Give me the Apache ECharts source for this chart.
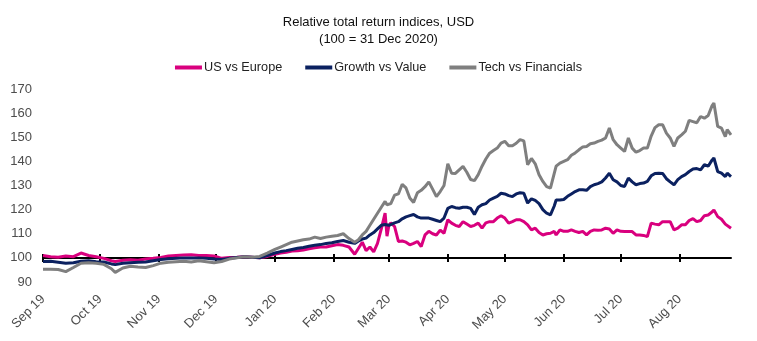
<!DOCTYPE html>
<html><head><meta charset="utf-8">
<script src="https://cdn.jsdelivr.net/npm/echarts@6/dist/echarts.min.js"></script>
<style>html,body{margin:0;padding:0;background:#fff}#c{width:757px;height:341px}</style>
</head><body><div id="c"></div>
<script>
const titleText = 'Relative total return indices, USD\n(100 = 31 Dec 2020)';
const seriesNames = ['US vs Europe', 'Growth vs Value', 'Tech vs Financials'];
const monthNames = ['Jan','Feb','Mar','Apr','May','Jun','Jul','Aug','Sep','Oct','Nov','Dec'];
const axisStart = '2019-09-01';
const axisEnd = '2020-08-28';
const yTicks = [90, 100, 110, 120, 130, 140, 150, 160, 170];

const dates = [
'2019-09-01','2019-09-05','2019-09-09','2019-09-13','2019-09-17','2019-09-21','2019-09-25','2019-09-29',
'2019-10-03','2019-10-07','2019-10-09','2019-10-13','2019-10-17','2019-10-21','2019-10-25','2019-10-29',
'2019-11-02','2019-11-06','2019-11-10','2019-11-14','2019-11-18','2019-11-22','2019-11-26','2019-11-30',
'2019-12-04','2019-12-08','2019-12-12','2019-12-16','2019-12-20','2019-12-24','2019-12-28',
'2020-01-01','2020-01-04','2020-01-07','2020-01-10','2020-01-13','2020-01-16','2020-01-19','2020-01-22','2020-01-25','2020-01-28','2020-01-31',
'2020-02-03','2020-02-06','2020-02-09','2020-02-12','2020-02-14','2020-02-16','2020-02-18','2020-02-20','2020-02-22','2020-02-24','2020-02-26','2020-02-28','2020-02-29',
'2020-03-01','2020-03-02','2020-03-04','2020-03-06','2020-03-08','2020-03-10','2020-03-12','2020-03-14','2020-03-16','2020-03-18','2020-03-20','2020-03-22','2020-03-24','2020-03-26','2020-03-28','2020-03-30',
'2020-04-01','2020-04-03','2020-04-05','2020-04-07','2020-04-09','2020-04-11','2020-04-13','2020-04-15','2020-04-17','2020-04-19','2020-04-21','2020-04-23','2020-04-25','2020-04-27','2020-04-29',
'2020-05-01','2020-05-03','2020-05-05','2020-05-07','2020-05-09','2020-05-11','2020-05-13','2020-05-15','2020-05-17','2020-05-19','2020-05-21','2020-05-23','2020-05-25','2020-05-27','2020-05-28','2020-05-30',
'2020-06-01','2020-06-03','2020-06-05','2020-06-07','2020-06-09','2020-06-11','2020-06-13','2020-06-15','2020-06-17','2020-06-19','2020-06-21','2020-06-23','2020-06-25','2020-06-27','2020-06-29',
'2020-07-01','2020-07-03','2020-07-05','2020-07-07','2020-07-09','2020-07-11','2020-07-13','2020-07-15','2020-07-17','2020-07-19','2020-07-21','2020-07-23','2020-07-25','2020-07-27','2020-07-29','2020-07-31',
'2020-08-02','2020-08-04','2020-08-06','2020-08-08','2020-08-10','2020-08-12','2020-08-14','2020-08-16','2020-08-18','2020-08-19','2020-08-21','2020-08-23','2020-08-25','2020-08-26','2020-08-28'
];

const usVsEurope = [
101.0,100.5,100.3,100.8,100.5,102.0,101.0,100.5,
99.8,98.8,98.5,99.0,99.2,99.0,99.5,99.8,
100.2,100.8,101.0,101.2,101.3,101.0,101.0,100.8,
99.8,100.2,100.3,100.5,100.3,100.0,100.6,
101.5,102.0,102.3,102.8,103.0,103.3,103.8,104.2,104.5,104.5,105.0,
105.5,105.2,104.5,101.5,104.0,106.5,103.0,104.5,102.5,106.0,112.0,118.6,109.0,
113.5,114.5,113.0,106.8,107.0,106.5,105.4,106.0,106.8,104.7,109.5,111.0,110.0,109.5,111.5,110.2,
115.8,114.4,113.5,113.0,115.0,114.0,113.0,113.5,114.4,112.3,114.5,115.0,115.0,116.5,117.5,
116.5,114.4,115.0,115.8,115.8,115.0,113.7,111.6,112.3,110.5,109.5,110.0,110.2,111.0,109.5,111.6,
111.0,111.0,111.6,111.0,110.5,111.0,109.5,111.0,111.6,111.5,111.6,112.3,112.0,110.2,111.6,
111.0,110.9,110.9,110.9,109.5,109.5,109.3,108.8,114.4,114.0,113.7,115.0,115.0,115.0,111.6,112.3,
113.7,113.7,115.5,116.3,115.0,115.5,117.5,117.8,119.0,119.9,117.1,116.0,114.0,113.5,112.3
];

const growthVsValue = [
98.5,98.6,98.2,97.8,98.0,98.6,98.8,98.4,
98.3,97.5,97.2,97.8,98.0,98.2,98.3,98.8,
99.3,99.6,99.8,100.0,100.0,100.0,99.8,99.5,
99.3,99.8,100.2,100.5,100.3,100.0,101.0,
102.0,102.6,103.0,103.5,104.0,104.3,104.8,105.2,105.5,106.0,106.3,
106.8,107.2,106.5,106.0,107.0,107.8,108.2,109.5,110.5,112.0,113.5,113.8,113.6,
113.5,113.2,114.5,115.0,116.2,117.0,117.5,118.0,117.0,116.5,116.5,116.5,116.0,115.5,115.0,116.5,
120.5,121.3,120.8,120.6,121.0,121.0,120.5,118.0,121.0,122.0,122.5,124.0,124.8,125.5,126.8,
126.5,125.8,125.4,126.5,127.0,126.8,122.7,124.5,123.8,122.5,120.0,118.5,117.8,121.5,124.0,124.0,
124.2,125.5,126.5,127.5,128.2,128.2,128.0,129.5,130.3,130.8,131.5,133.1,135.1,132.4,131.5,
130.0,129.6,133.1,131.5,130.3,130.8,131.0,131.7,134.0,135.0,135.1,135.0,132.8,131.5,130.3,132.4,
133.7,134.5,135.8,136.8,137.0,136.5,138.6,138.0,140.5,141.4,135.8,135.1,133.7,135.1,133.7
];

const techVsFinancials = [
95.3,95.3,95.2,94.3,96.0,97.8,98.0,97.8,
97.3,95.5,94.0,95.8,96.5,96.2,96.0,96.8,
97.8,98.2,98.4,98.6,98.3,98.8,98.4,98.0,
98.5,99.5,100.0,100.5,100.3,100.6,102.0,
103.5,104.5,105.5,106.5,107.0,107.5,107.8,108.6,108.0,108.6,109.0,
109.3,110.0,108.0,106.5,107.5,109.5,111.0,113.5,116.0,118.5,121.0,123.4,122.0,
122.5,122.5,126.0,126.5,130.5,129.0,124.8,123.0,127.0,128.0,129.5,131.5,128.5,125.4,127.5,130.0,
139.0,135.1,135.0,136.5,137.9,135.5,132.5,132.0,134.5,138.0,141.0,143.4,144.5,145.5,147.6,
148.3,146.5,146.5,147.5,149.0,148.5,138.6,141.2,139.0,134.5,131.7,129.5,128.9,135.0,138.0,139.3,
140.0,140.7,142.5,143.5,144.8,146.0,146.2,147.3,147.6,148.3,148.8,149.7,153.8,149.0,146.9,
145.5,144.1,149.7,145.5,143.8,144.5,145.5,145.5,150.5,154.0,155.2,155.2,151.7,149.7,146.2,149.7,
151.0,152.5,157.0,156.5,156.0,158.6,157.9,159.0,163.0,164.2,154.5,153.8,150.3,153.1,151.0
];

const colors = ['#D9007E', '#0B2160', '#7F7F7F'];

// full daily category axis
const categories = [];
{
  const s = new Date(axisStart + 'T00:00:00Z'), e = new Date(axisEnd + 'T00:00:00Z');
  for (let t = s.getTime(); t <= e.getTime(); t += 86400000) {
    categories.push(new Date(t).toISOString().slice(0, 10));
  }
}
const isMonthStart = (idx, val) => val.slice(8) === '01';
const fmtMonth = v => monthNames[+v.slice(5, 7) - 1] + ' ' + v.slice(2, 4);

const chart = echarts.init(document.getElementById('c'), null, {renderer: 'canvas'});
const font = 'Liberation Sans, Arial, sans-serif';
const mk = arr => dates.map((d, i) => [d, arr[i]]);

chart.setOption({
  animation: false,
  color: colors,
  title: {
    text: titleText, left: 'center', top: 9,
    textStyle: {fontFamily: font, fontSize: 13, fontWeight: 'normal', color: '#111', lineHeight: 17}
  },
  legend: {
    top: 56, left: 'center', itemWidth: 27, itemHeight: 4, itemGap: 23, icon: 'rect',
    textStyle: {fontFamily: font, fontSize: 12.7, color: '#222', padding: [0, 0, 0, -3]},
    data: seriesNames
  },
  grid: {left: 43, right: 26, top: 89, bottom: 59, containLabel: false},
  xAxis: [
    {
      type: 'category', data: categories, boundaryGap: false, position: 'bottom',
      axisLine: {show: false}, axisTick: {show: false}, splitLine: {show: false},
      axisLabel: {interval: isMonthStart, formatter: fmtMonth, rotate: 45, margin: 15,
        fontFamily: font, fontSize: 13, color: '#4d4d4d'}
    },
    {
      type: 'category', data: categories, boundaryGap: false, position: 'bottom', offset: -24,
      axisLine: {show: true, lineStyle: {color: '#000', width: 2}},
      axisTick: {show: true, interval: isMonthStart, length: 4, inside: false, lineStyle: {color: '#000', width: 2}},
      axisLabel: {show: false}, splitLine: {show: false}
    },
    {
      type: 'category', data: categories, boundaryGap: false, position: 'bottom', offset: -24,
      axisLine: {show: false},
      axisTick: {show: true, interval: isMonthStart, length: 4, inside: true, lineStyle: {color: '#000', width: 2}},
      axisLabel: {show: false}, splitLine: {show: false}
    }
  ],
  yAxis: {
    type: 'value', min: yTicks[0], max: yTicks[yTicks.length - 1], interval: 10,
    axisLine: {show: false}, axisTick: {show: false}, splitLine: {show: false},
    axisLabel: {margin: 11, fontFamily: font, fontSize: 13, color: '#4d4d4d'}
  },
  series: [
    {name: seriesNames[0], type: 'line', data: mk(usVsEurope), showSymbol: false, lineStyle: {width: 3}},
    {name: seriesNames[1], type: 'line', data: mk(growthVsValue), showSymbol: false, lineStyle: {width: 3}},
    {name: seriesNames[2], type: 'line', data: mk(techVsFinancials), showSymbol: false, lineStyle: {width: 3}}
  ]
});
</script></body></html>
